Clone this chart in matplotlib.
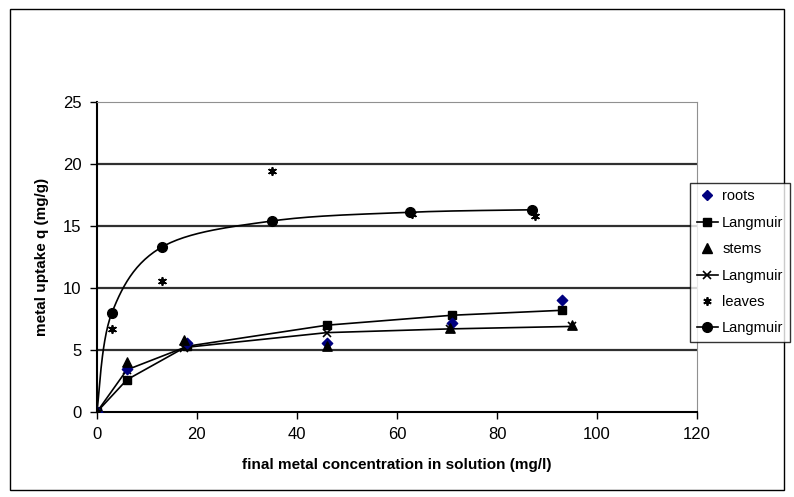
import numpy as np
import matplotlib.pyplot as plt
from matplotlib.patches import Rectangle

plt.rcParams['font.family'] = ['Liberation Sans', 'DejaVu Sans']

# data
roots_x = [0, 6, 18, 46, 71, 93]
roots_y = [0, 3.5, 5.6, 5.6, 7.2, 9.0]
roots_lang_x = [0, 6, 18, 46, 71, 93]
roots_lang_y = [0, 2.6, 5.3, 7.0, 7.8, 8.2]

stems_x = [0, 6, 17.5, 46, 70.5, 95]
stems_y = [0, 4.0, 5.8, 5.3, 6.8, 7.0]
stems_lang_x = [0, 6, 17.5, 46, 70.5, 95]
stems_lang_y = [0, 3.4, 5.2, 6.4, 6.7, 6.9]

leaves_x = [0, 3, 13, 35, 63, 87.5]
leaves_y = [0, 6.7, 10.6, 19.4, 16.0, 15.8]
leaves_lang_x = [0, 3, 13, 35, 62.5, 87]
leaves_lang_y = [0, 8.0, 13.3, 15.4, 16.1, 16.3]


def smooth(xs, ys, n=30):
    # Catmull-Rom style curve through the points (like a smoothed line)
    p = np.column_stack([xs, ys]).astype(float)
    p = np.vstack([p[0], p, p[-1]])
    out = []
    t = np.linspace(0, 1, n)[:, None]
    for i in range(1, len(p) - 2):
        p0, p1, p2, p3 = p[i - 1], p[i], p[i + 1], p[i + 2]
        c1 = p1 + (p2 - p0) / 6
        c2 = p2 - (p3 - p1) / 6
        seg = ((1 - t) ** 3) * p1 + 3 * ((1 - t) ** 2) * t * c1 + 3 * (1 - t) * t ** 2 * c2 + t ** 3 * p2
        out.append(seg)
    out = np.vstack(out)
    return out[:, 0], out[:, 1]


fig = plt.figure(figsize=(7.94, 4.97), dpi=100)
ax = fig.add_axes([0.122, 0.171, 0.756, 0.624])

# horizontal gridlines
for g in [5, 10, 15, 20]:
    ax.axhline(g, color='#303030', lw=1.6, zorder=1)

ax.plot(roots_lang_x, roots_lang_y, color='black', lw=1.2, marker='s', ms=6, zorder=3)
ax.plot(stems_lang_x, stems_lang_y, color='black', lw=1.2, marker='x', ms=6,
        mew=1.2, zorder=3)
sx, sy = smooth(leaves_lang_x, leaves_lang_y)
ax.plot(sx, sy, color='black', lw=1.2, zorder=3)
ax.plot(leaves_lang_x, leaves_lang_y, ls='none', marker='o', ms=7,
        color='black', zorder=4)

ax.scatter(roots_x, roots_y, marker='D', s=28, color='#000080', zorder=4)
ax.scatter(stems_x, stems_y, marker='^', s=45, color='black', zorder=4)
ax.scatter(leaves_x, leaves_y, marker=(6, 2, 0), s=28, color='black',
           linewidths=1.3, zorder=4)

# legend handles in the chart's order
h = [
    plt.Line2D([], [], ls='none', marker='D', ms=5, color='#000080'),
    plt.Line2D([], [], color='black', lw=1.2, marker='s', ms=6),
    plt.Line2D([], [], ls='none', marker='^', ms=7, color='black'),
    plt.Line2D([], [], color='black', lw=1.2, marker='x', ms=6, mew=1.2),
    plt.Line2D([], [], ls='none', marker=(6, 2, 0), ms=6, color='black', mew=1.3),
    plt.Line2D([], [], color='black', lw=1.2, marker='o', ms=7),
]
labels = ['roots', 'Langmuir', 'stems', 'Langmuir', 'leaves', 'Langmuir']
leg = fig.legend(h, labels, loc='upper left', bbox_to_anchor=(0.869, 0.632),
                 frameon=True, fancybox=False, edgecolor='black', fontsize=10.5,
                 handlelength=1.5, handletextpad=0.25, labelspacing=0.85,
                 borderpad=0.45, borderaxespad=0)
leg.get_frame().set_linewidth(1.0)

ax.set_xlim(0, 120)
ax.set_ylim(0, 25)
ax.set_xticks(range(0, 121, 20))
ax.set_yticks(range(0, 26, 5))
ax.tick_params(direction='out', length=5, width=1, labelsize=12, pad=6)
ax.spines['top'].set_color('#909090')
ax.spines['right'].set_color('#909090')
ax.spines['left'].set_linewidth(1.5)
ax.spines['bottom'].set_linewidth(1.5)

ax.set_xlabel('final metal concentration in solution (mg/l)', fontsize=11,
              fontweight='bold', labelpad=11)
ax.set_ylabel('metal uptake q (mg/g)', fontsize=11, fontweight='bold', labelpad=10)

# outer border of the chart
fig.patches.append(Rectangle((0.013, 0.014), 0.974, 0.968, transform=fig.transFigure,
                             fill=False, edgecolor='black', lw=1.0))

fig.savefig('out.png', dpi=100)
